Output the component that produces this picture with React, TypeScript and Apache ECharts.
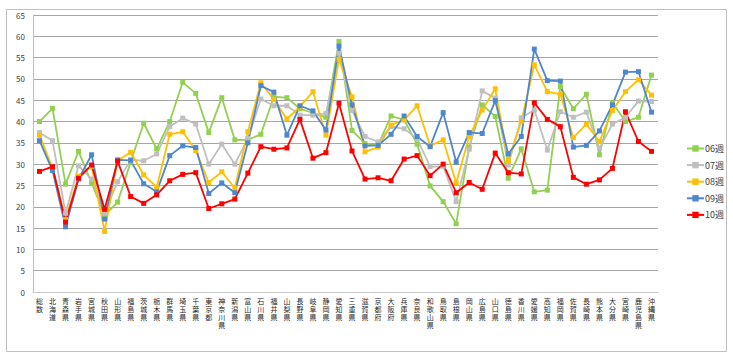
import React, { useEffect, useRef } from "react";
import * as echarts from "echarts";

const categories = [
  "総数", "北海道", "青森県", "岩手県", "宮城県", "秋田県", "山形県", "福島県",
  "茨城県", "栃木県", "群馬県", "埼玉県", "千葉県", "東京都", "神奈川県", "新潟県",
  "富山県", "石川県", "福井県", "山梨県", "長野県", "岐阜県", "静岡県", "愛知県",
  "三重県", "滋賀県", "京都府", "大阪府", "兵庫県", "奈良県", "和歌山県", "鳥取県",
  "島根県", "岡山県", "広島県", "山口県", "徳島県", "香川県", "愛媛県", "高知県",
  "福岡県", "佐賀県", "長崎県", "熊本県", "大分県", "宮崎県", "鹿児島県", "沖縄県",
];

const seriesNames = ["06週", "07週", "08週", "09週", "10週"];

const week06 = [
  40.0, 43.1, 25.3, 33.0, 25.6, 18.0, 21.1, 30.5,
  39.6, 33.6, 40.0, 49.2, 46.6, 37.4, 45.6, 35.7,
  35.7, 37.0, 45.8, 45.6, 43.0, 42.0, 41.0, 58.8,
  37.9, 34.8, 34.5, 41.3, 40.4, 34.7, 24.9, 21.2,
  16.0, 34.0, 43.9, 41.2, 26.7, 33.6, 23.5, 23.9,
  48.2, 43.0, 46.4, 32.2, 44.4, 40.0, 41.0, 50.9,
];

const week07 = [
  37.4, 35.5, 18.5, 29.6, 26.5, 18.5, 25.9, 31.0,
  30.8, 32.4, 38.8, 40.8, 39.4, 30.0, 34.7, 30.0,
  36.0, 45.3, 43.7, 43.7, 41.5, 41.5, 41.9, 56.0,
  42.6, 36.5, 35.2, 38.8, 38.3, 36.0, 29.4, 29.5,
  21.2, 33.5, 47.2, 45.5, 29.8, 40.9, 42.7, 33.3,
  42.3, 41.0, 42.2, 33.7, 39.4, 41.0, 44.8, 44.7,
];

const week08 = [
  36.8, 29.0, 17.0, 27.2, 29.5, 14.2, 30.8, 32.8,
  27.5, 24.6, 37.0, 37.6, 33.2, 25.7, 28.2, 24.4,
  37.6, 49.1, 45.2, 40.6, 43.5, 47.0, 36.8, 54.6,
  45.8, 32.9, 34.0, 39.2, 40.4, 43.7, 34.3, 35.7,
  25.6, 36.5, 42.7, 47.7, 30.8, 40.0, 53.3, 47.0,
  46.4, 36.2, 39.4, 35.3, 42.6, 47.0, 49.8, 46.2,
];

const week09 = [
  35.5, 28.5, 15.3, 26.5, 32.2, 17.1, 31.0, 30.9,
  25.4, 23.5, 32.0, 34.3, 33.9, 23.1, 25.6, 23.3,
  35.0, 48.4, 46.9, 36.8, 43.7, 42.5, 38.0, 57.7,
  43.9, 34.3, 34.4, 37.0, 41.3, 36.5, 34.1, 42.1,
  30.5, 37.4, 37.2, 44.9, 32.4, 36.5, 57.0, 49.6,
  49.5, 34.0, 34.4, 37.8, 43.9, 51.6, 51.7, 42.2,
];

const week10 = [
  28.3, 29.4, 16.4, 26.7, 29.8, 19.4, 30.7, 22.4,
  20.8, 22.8, 26.1, 27.6, 28.0, 19.6, 20.7, 21.8,
  27.9, 34.1, 33.5, 33.8, 40.5, 31.4, 32.7, 44.3,
  33.1, 26.5, 26.8, 26.1, 31.2, 32.0, 27.3, 30.0,
  23.3, 25.7, 24.1, 32.6, 28.0, 27.7, 44.4, 40.5,
  38.8, 26.9, 25.3, 26.3, 29.0, 42.3, 35.3, 33.0,
];

const seriesData = [week06, week07, week08, week09, week10];
const colors = ["#92D050", "#BFBFBF", "#FFC000", "#4F86D0", "#FF0000"];

// vertical (stacked-character) versions of the category names
const verticalCategories = categories.map((c) => c.split("").join("\n"));

export default function App() {
  const ref = useRef<HTMLDivElement>(null);

  useEffect(() => {
    if (!ref.current) return;
    const chart = echarts.init(ref.current, null, { renderer: "svg" });
    const font = '"Noto Sans CJK JP", "Noto Sans", sans-serif';
    const labelFont = '"Liberation Sans", "Noto Sans CJK JP", sans-serif';
    chart.setOption({
      animation: false,
      textStyle: { fontFamily: font },
      graphic: [
        {
          type: "rect",
          shape: { x: 6.5, y: 9.5, width: 720, height: 342 },
          style: { fill: "none", stroke: "#BFBFBF", lineWidth: 1 },
          silent: true,
        },
      ],
      legend: {
        orient: "vertical",
        left: 681,
        top: 139,
        itemWidth: 17,
        itemHeight: 8,
        itemGap: 7.6,
        data: seriesNames,
        textStyle: { fontSize: 9, color: "#404040", fontFamily: font, padding: [0, 0, 0, -4] },
      },
      grid: { left: 33, right: 75, top: 15, bottom: 69, containLabel: false },
      xAxis: {
        type: "category",
        data: verticalCategories,
        boundaryGap: true,
        axisLine: { show: true, lineStyle: { color: "#C8C8C8" } },
        axisTick: { show: false },
        axisLabel: {
          interval: 0,
          rotate: 0,
          margin: 5,
          fontSize: 7,
          lineHeight: 8,
          color: "#262626",
          fontFamily: labelFont,
          align: "center",
          verticalAlign: "top",
        },
      },
      yAxis: {
        type: "value",
        min: 0,
        max: 65,
        interval: 5,
        axisLine: { show: true, lineStyle: { color: "#BFBFBF" } },
        axisTick: { show: false },
        axisLabel: { fontSize: 8, color: "#404040", margin: 8, fontFamily: font },
        splitLine: { lineStyle: { color: "#A6A6A6", width: 1 } },
      },
      series: seriesNames.map((name, i) => ({
        name,
        type: "line",
        data: seriesData[i],
        symbol: "rect",
        symbolSize: 5,
        showAllSymbol: true,
        lineStyle: { color: colors[i], width: 1.8 },
        itemStyle: { color: colors[i] },
        emphasis: { disabled: true },
      })),
    });
    return () => chart.dispose();
  }, []);

  return (
    <div
      ref={ref}
      style={{ position: "absolute", left: 0, top: 0, width: 733, height: 361, background: "#fff" }}
    />
  );
}
